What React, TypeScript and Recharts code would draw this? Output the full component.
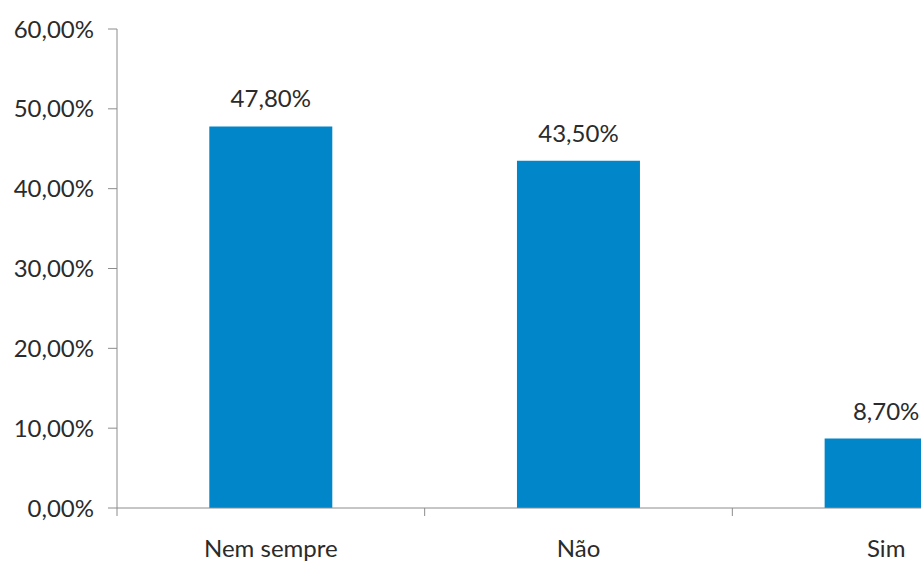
import { BarChart, Bar, XAxis, YAxis, LabelList } from "recharts";

const categories = ["Nem sempre", "Não", "Sim"];
const shares = [47.8, 43.5, 8.7];
const yTicks = [0, 10, 20, 30, 40, 50, 60];

const data = categories.map((name, i) => ({ name, value: shares[i] }));

const BAR_COLOR = "#0086C9";
const AXIS_COLOR = "#8c8c8c";
const TEXT_COLOR = "#2b2b2b";
const FONT = "Lato, 'Open Sans', sans-serif";
const FONT_SIZE = 24;

const pct = (v: number) => v.toFixed(2).replace(".", ",") + "%";

// category ticks sit on the boundaries between bars, labels in the middle
// eslint-disable-next-line @typescript-eslint/no-explicit-any
const CategoryTick = (props: any) => {
  const { x, y, payload } = props;
  const half = payload?.offset ?? 0;
  return (
    <g>
      <line
        x1={x - half}
        x2={x - half}
        y1={y}
        y2={y + 8}
        stroke={AXIS_COLOR}
        strokeWidth={1}
      />
      <text
        x={x}
        y={y + 49}
        textAnchor="middle"
        fill={TEXT_COLOR}
        fontSize={FONT_SIZE}
        fontFamily={FONT}
      >
        {payload.value}
      </text>
    </g>
  );
};

export default function App() {
  return (
    <div
      style={{
        position: "absolute",
        left: 0,
        top: 0,
        width: 921,
        height: 561,
        overflow: "hidden",
        background: "#fff",
      }}
    >
      <BarChart
        width={1050}
        height={561}
        data={data}
        margin={{ top: 29, right: 10, bottom: 0, left: 0 }}
        barCategoryGap="30%"
      >
        <XAxis
          dataKey="name"
          height={53}
          axisLine={{ stroke: AXIS_COLOR }}
          tickLine={false}
          tickSize={0}
          tickMargin={0}
          interval={0}
          tick={<CategoryTick />}
        />
        <YAxis
          width={117}
          domain={[0, 60]}
          ticks={yTicks}
          tickFormatter={pct}
          axisLine={{ stroke: AXIS_COLOR }}
          tickLine={{ stroke: AXIS_COLOR }}
          tickSize={9}
          tickMargin={14}
          tick={{ fill: TEXT_COLOR, fontSize: FONT_SIZE, fontFamily: FONT }}
        />
        <Bar dataKey="value" fill={BAR_COLOR} isAnimationActive={false}>
          <LabelList
            dataKey="value"
            position="top"
            offset={19}
            formatter={(v: number) => pct(v)}
            fill={TEXT_COLOR}
            fontSize={FONT_SIZE}
            fontFamily={FONT}
          />
        </Bar>
      </BarChart>
    </div>
  );
}
